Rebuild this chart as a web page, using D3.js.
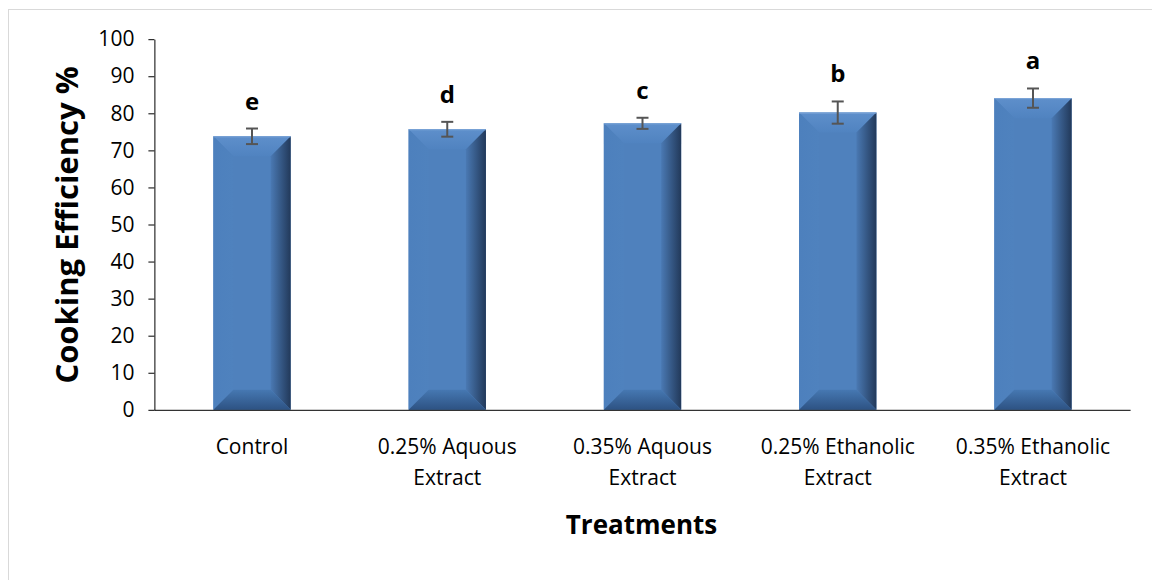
<!DOCTYPE html>
<html>
<head>
<meta charset="utf-8">
<script src="https://cdn.jsdelivr.net/npm/d3@7"></script>
<style>
  body { margin: 0; background: #fff; }
  text { font-family: "Open Sans", "Noto Sans", sans-serif; }
</style>
</head>
<body>
<div id="chart"></div>
<script>
// data
const categories = ["Control", "0.25% Aquous Extract", "0.35% Aquous Extract", "0.25% Ethanolic Extract", "0.35% Ethanolic Extract"];
const catLines = [["Control"], ["0.25% Aquous", "Extract"], ["0.35% Aquous", "Extract"], ["0.25% Ethanolic", "Extract"], ["0.35% Ethanolic", "Extract"]];
const values = [73.8, 75.7, 77.3, 80.2, 84.1];
const errors = [2.1, 2.0, 1.5, 3.0, 2.6];
const letters = ["e", "d", "c", "b", "a"];
const yTicks = [0, 10, 20, 30, 40, 50, 60, 70, 80, 90, 100];

const width = 1152, height = 580;
const margin = { top: 39.2, right: 21.4, bottom: 170.2, left: 154.4 };
const w = width - margin.left - margin.right;
const h = height - margin.top - margin.bottom;

const svg = d3.select("#chart").append("svg")
    .attr("width", width)
    .attr("height", height);

// outer frame
svg.append("rect")
    .attr("x", 8.5).attr("y", 9.5)
    .attr("width", width).attr("height", height)
    .attr("fill", "none").attr("stroke", "#d9d9d9");

// gradients for the bevel look
const defs = svg.append("defs");
function grad(id, x2, y2, c0, c1) {
    const g = defs.append("linearGradient").attr("id", id)
        .attr("x1", 0).attr("y1", 0).attr("x2", x2).attr("y2", y2);
    g.append("stop").attr("offset", 0).attr("stop-color", c0);
    g.append("stop").attr("offset", 1).attr("stop-color", c1);
}
grad("gTop", 0, 1, "#5e8fcb", "#5083c0");
grad("gLeft", 1, 0, "#4d80bd", "#4f82be");
grad("gRight", 1, 0, "#4a79b3", "#22395a");
grad("gBottom", 0, 1, "#4678b2", "#2d5283");

const g = svg.append("g")
    .attr("transform", "translate(" + margin.left + "," + margin.top + ")");

let x = d3.scaleBand()
    .domain(categories)
    .range([0, w])
    .paddingInner(0.604)
    .paddingOuter(0.302);
let y = d3.scaleLinear()
    .domain([0, 100])
    .range([h, 0]);

// bars
const bars = g.selectAll(".bar")
    .data(categories)
    .enter().append("g")
    .attr("class", "bar");

bars.each(function (c, i) {
    const sel = d3.select(this);
    const x0 = x(c), x1 = x(c) + x.bandwidth();
    const y0 = y(values[i]), y1 = y(0);
    const b = Math.min(20, (x1 - x0) / 2, (y1 - y0) / 2);
    sel.append("rect")
        .attr("x", x0).attr("y", y0)
        .attr("width", x1 - x0).attr("height", y1 - y0)
        .attr("fill", "#4f81bd");
    const poly = (pts, fill) => sel.append("polygon")
        .attr("points", pts.map(p => p.join(",")).join(" "))
        .attr("fill", fill);
    poly([[x0, y0], [x1, y0], [x1 - b, y0 + b], [x0 + b, y0 + b]], "url(#gTop)");
    poly([[x0, y0], [x0 + b, y0 + b], [x0 + b, y1 - b], [x0, y1]], "url(#gLeft)");
    poly([[x1, y0], [x1, y1], [x1 - b, y1 - b], [x1 - b, y0 + b]], "url(#gRight)");
    poly([[x0, y1], [x0 + b, y1 - b], [x1 - b, y1 - b], [x1, y1]], "url(#gBottom)");
    sel.append("line")
        .attr("x1", x0).attr("x2", x1).attr("y1", y0 + 0.5).attr("y2", y0 + 0.5)
        .attr("stroke", "#7ea6d8").attr("stroke-width", 1);
});

// error bars
const cx = c => x(c) + x.bandwidth() / 2;
const err = g.selectAll(".err")
    .data(categories)
    .enter().append("g")
    .attr("class", "err")
    .attr("stroke", "#555")
    .attr("stroke-width", 2);
err.append("line")
    .attr("x1", cx).attr("x2", cx)
    .attr("y1", (c, i) => y(values[i] + errors[i]))
    .attr("y2", (c, i) => y(values[i] - errors[i]));
err.append("line")
    .attr("x1", c => cx(c) - 6).attr("x2", c => cx(c) + 6)
    .attr("y1", (c, i) => y(values[i] + errors[i]))
    .attr("y2", (c, i) => y(values[i] + errors[i]));
err.append("line")
    .attr("x1", c => cx(c) - 6).attr("x2", c => cx(c) + 6)
    .attr("y1", (c, i) => y(values[i] - errors[i]))
    .attr("y2", (c, i) => y(values[i] - errors[i]));

// significance letters
g.selectAll(".letter")
    .data(categories)
    .enter().append("text")
    .attr("class", "letter")
    .attr("x", cx)
    .attr("y", (c, i) => y(values[i] + errors[i]) - 19)
    .attr("text-anchor", "middle")
    .attr("font-size", 24)
    .attr("font-weight", "bold")
    .text((c, i) => letters[i]);

// y axis
const yAxis = g.append("g")
    .call(d3.axisLeft(y).tickValues(yTicks).tickSize(6).tickPadding(14).tickSizeOuter(0));
yAxis.selectAll("text").attr("font-size", 21).attr("fill", "#000")
    .style("font-family", "'Open Sans', sans-serif");
yAxis.selectAll("line,path").attr("stroke", "#000");

// x axis line
g.append("line")
    .attr("x1", 0).attr("x2", w)
    .attr("y1", h + 0.5).attr("y2", h + 0.5)
    .attr("stroke", "#000");

// category labels
const cl = g.selectAll(".cat")
    .data(categories)
    .enter().append("text")
    .attr("class", "cat")
    .attr("text-anchor", "middle")
    .attr("font-size", 21)
    .attr("fill", "#000")
    .attr("transform", c => "translate(" + cx(c) + "," + (h + 44) + ")");
cl.selectAll("tspan")
    .data((c, i) => catLines[i])
    .enter().append("tspan")
    .attr("x", 0)
    .attr("dy", (d, j) => j === 0 ? 0 : 31)
    .text(d => d);

// axis titles
svg.append("text")
    .attr("x", margin.left + w / 2 - 1)
    .attr("y", 534)
    .attr("text-anchor", "middle")
    .attr("font-size", 26)
    .attr("font-weight", "bold")
    .text("Treatments");

svg.append("text")
    .attr("transform", "translate(78,225) rotate(-90)")
    .attr("text-anchor", "middle")
    .attr("font-size", 31)
    .attr("font-weight", "bold")
    .text("Cooking Efficiency %");
</script>
</body>
</html>
